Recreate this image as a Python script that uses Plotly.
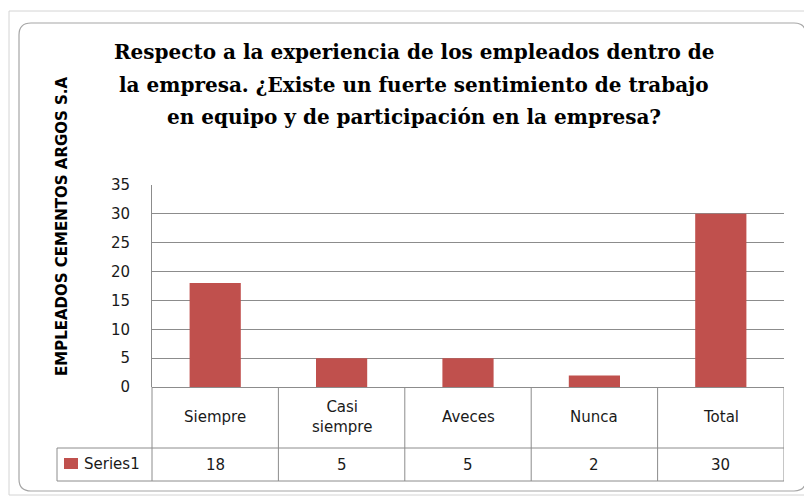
import plotly.graph_objects as go

# data
categorias = ['Siempre', 'Casi<br>siempre', 'Aveces', 'Nunca', 'Total']
valores = [18, 5, 5, 2, 30]
serie = 'Series1'
y_ticks = [0, 5, 10, 15, 20, 25, 30, 35]

titulo = ['Respecto a la experiencia de los empleados dentro de',
          'la empresa. ¿Existe un fuerte sentimiento de trabajo',
          'en equipo y de participación en la empresa?']
eje_y = 'EMPLEADOS CEMENTOS ARGOS S.A'

W, H = 812, 496
OFF = 8                            # page body margin
L, R, T, B = 152, 784, 185, 387   # plot area, window pixels
GRIS = '#8c8c8c'
ROJO = '#C0504D'


def px(x):
    return (x - L) / (R - L)


def py(y):
    return (B - y) / (B - T)


fig = go.Figure(
    go.Bar(
        x=list(range(len(categorias))),
        y=valores,
        name=serie,
        marker=dict(color=ROJO, line=dict(width=0)),
        hoverinfo='y',
    )
)

linea = dict(color=GRIS, width=1)
shapes = []
# data table lines
fila1 = py(448)
fila2 = py(481)
shapes.append(dict(type='line', xref='paper', yref='paper', x0=px(57), x1=1, y0=fila1, y1=fila1, line=linea))
shapes.append(dict(type='line', xref='paper', yref='paper', x0=px(57), x1=1, y0=fila2, y1=fila2, line=linea))
shapes.append(dict(type='line', xref='paper', yref='paper', x0=0, x1=0, y0=0, y1=fila2, line=linea))
shapes.append(dict(type='line', xref='paper', yref='paper', x0=px(57), x1=px(57), y0=fila1, y1=fila2, line=linea))
for i in range(len(categorias)):
    shapes.append(dict(type='line', xref='x', yref='paper', x0=i + 0.5, x1=i + 0.5, y0=0, y1=fila2, line=linea))

# legend key in the table
shapes.append(dict(type='rect', xref='paper', yref='paper', x0=px(64), x1=px(78), y0=py(469), y1=py(458),
                   fillcolor=ROJO, line=dict(width=0)))

# chart frame (rounded)
x0, y0, x1, y1, r = px(19), py(23), px(806), py(491), 12
rx = r / (R - L)
ry = r / (B - T)
path = (f'M {x0 + rx},{y0} L {x1 - rx},{y0} Q {x1},{y0} {x1},{y0 - ry} '
        f'L {x1},{y1 + ry} Q {x1},{y1} {x1 - rx},{y1} '
        f'L {x0 + rx},{y1} Q {x0},{y1} {x0},{y1 + ry} '
        f'L {x0},{y0 - ry} Q {x0},{y0} {x0 + rx},{y0} Z')
shapes.append(dict(type='path', xref='paper', yref='paper', path=path,
                   line=dict(color='#a6a6a6', width=1.2)))
# spreadsheet edge behind the chart
shapes.append(dict(type='rect', xref='paper', yref='paper', x0=px(9), x1=px(811), y0=py(11), y1=py(495),
                   line=dict(color='#d4d4d4', width=1), layer='below'))

annotations = []
fuente_tabla = dict(family='DejaVu Sans', size=15, color='#1a1a1a')
for i, (c, v) in enumerate(zip(categorias, valores)):
    annotations.append(dict(x=i, xref='x', y=py(417), yref='paper', yanchor='middle', text=c,
                            showarrow=False, font=fuente_tabla, align='center'))
    annotations.append(dict(x=i, xref='x', y=py(465), yref='paper', yanchor='middle', text=str(v),
                            showarrow=False, font=fuente_tabla))
annotations.append(dict(x=px(82), xref='paper', xanchor='left', y=py(464), yref='paper', yanchor='middle',
                        text=serie, showarrow=False, font=fuente_tabla))
annotations.append(dict(x=px(62), xref='paper', xanchor='center', y=py(226), yref='paper', yanchor='middle',
                        text=eje_y, textangle=-90, showarrow=False,
                        font=dict(family='DejaVu Sans', size=15, color='black', weight='bold')))
for linea_t, yy in zip(titulo, [52, 85, 117]):
    annotations.append(dict(x=px(414), xref='paper', xanchor='center', y=py(yy), yref='paper',
                            yanchor='middle', text=linea_t, showarrow=False,
                            font=dict(family='DejaVu Serif', size=20, color='black', weight='bold')))

fig.update_layout(
    width=W - OFF, height=H - OFF,
    margin=dict(l=L - OFF, r=W - R, t=T - OFF, b=H - B, pad=0),
    paper_bgcolor='white', plot_bgcolor='white',
    showlegend=False,
    bargap=0.595,
    xaxis=dict(range=[-0.5, len(categorias) - 0.5], showticklabels=False, showgrid=False,
               zeroline=False, showline=False, ticks=''),
    yaxis=dict(range=[0, 35], tickvals=y_ticks, showgrid=True, gridcolor=GRIS, gridwidth=1,
               zeroline=True, zerolinecolor=GRIS, zerolinewidth=1,
               showline=True, linecolor=GRIS, linewidth=1, ticks='',
               ticklabelstandoff=18,
               tickfont=dict(family='DejaVu Sans', size=15, color='#1a1a1a')),
    shapes=shapes,
    annotations=annotations,
)

fig.write_html('out.html')
